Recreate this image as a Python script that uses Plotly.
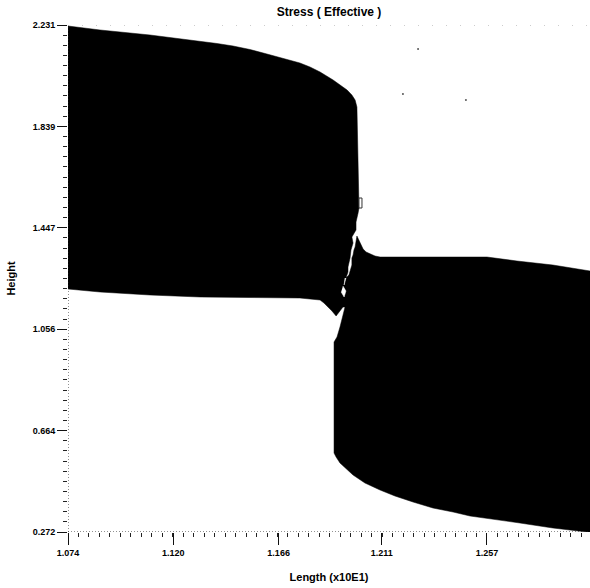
import plotly.graph_objects as go

TITLE = "Stress ( Effective )"
X_TITLE = "Length (x10E1)"
Y_TITLE = "Height"

x_ticks = [1.074, 1.120, 1.166, 1.211, 1.257]
x_tick_labels = ["1.074", "1.120", "1.166", "1.211", "1.257"]
y_ticks = [2.231, 1.839, 1.447, 1.056, 0.664, 0.272]
y_tick_labels = ["2.231", "1.839", "1.447", "1.056", "0.664", "0.272"]
x_min, x_max = 1.074, 1.302
y_min, y_max = 0.272, 2.231

# Upper-left front of the filled stress region
upper_x = [1.0740, 1.0880, 1.1098, 1.1207, 1.1317, 1.1391, 1.1461, 1.1535, 1.1609, 1.1683, 1.1753, 1.1797, 1.1841,
           1.1898, 1.1928, 1.1959, 1.1980, 1.1994, 1.2002, 1.2007, 1.2011,
           1.2011, 1.2007, 1.1998, 1.1998, 1.1980, 1.1985, 1.1976, 1.1972]
upper_y = [2.2271, 2.2117, 2.1924, 2.1808, 2.1692, 2.1595, 2.1499, 2.1363, 2.1189, 2.1016, 2.0842, 2.0687, 2.0494,
           2.0185, 1.9992, 1.9798, 1.9605, 1.9412, 1.9142, 1.6707, 1.5664,
           1.5239, 1.5046, 1.4698, 1.4389, 1.4118, 1.3886, 1.3616, 1.3307]
# Narrow crack between the two lobes
crack_x = [1.1963, 1.1963, 1.1954, 1.1967, 1.1980, 1.1980, 1.1985, 1.1989, 1.1994, 1.2002]
crack_y = [1.2959, 1.2766, 1.2534, 1.2650, 1.3036, 1.3307, 1.3423, 1.3616, 1.3732, 1.4157]
# Upper-right front
right_top_x = [1.2016, 1.2029, 1.2042, 1.2059, 1.2081, 1.2103, 1.2570, 1.2701, 1.2858, 1.3020]
right_top_y = [1.3925, 1.3655, 1.3539, 1.3461, 1.3384, 1.3345, 1.3345, 1.3191, 1.3036, 1.2805]
# Lower-right front, from the right edge back to the left
right_bottom_x = [1.3020, 1.3007, 1.2858, 1.2714, 1.2570, 1.2496, 1.2422, 1.2334, 1.2247, 1.2168, 1.2103, 1.2037,
                  1.1985, 1.1954, 1.1928, 1.1911, 1.1902, 1.1902]
right_bottom_y = [0.2720, 0.2720, 0.2874, 0.3067, 0.3260, 0.3338, 0.3492, 0.3647, 0.3879, 0.4111, 0.4342, 0.4613,
                  0.4922, 0.5154, 0.5386, 0.5618, 0.5772, 1.0061]
# Wedge and lower-left front
lower_x = [1.1915, 1.1928, 1.1941, 1.1950, 1.1941, 1.1911, 1.1893, 1.1876, 1.1858, 1.1841, 1.1806, 1.1753, 1.1535,
           1.1317, 1.1098, 1.0880, 1.0740]
lower_y = [1.0254, 1.0641, 1.1104, 1.1414, 1.1414, 1.1066, 1.1259, 1.1414, 1.1568, 1.1684, 1.1723, 1.1761, 1.1780,
           1.1800, 1.1877, 1.1993, 1.2109]

region_x = upper_x + crack_x + right_top_x + right_bottom_x + lower_x
region_y = upper_y + crack_y + right_top_y + right_bottom_y + lower_y

# White flaws inside the crack
flaw_x = [1.1941, 1.1954, 1.1950, 1.1946, 1.1941, 1.1933]
flaw_y = [1.2225, 1.2032, 1.1916, 1.1800, 1.1877, 1.1993]
sliver_x = [1.1954, 1.1946, 1.1950]
sliver_y = [1.2534, 1.2264, 1.2534]
box_x = [1.2011, 1.2024, 1.2024, 1.2011, 1.2011]
box_y = [1.5625, 1.5625, 1.5239, 1.5239, 1.5625]

speck_x = [1.2203, 1.2478, 1.2269]
speck_y = [1.9644, 1.9412, 2.1383]

BLACK = "#000000"
FONT = "Liberation Sans"

fig = go.Figure()
fig.add_trace(go.Scatter(x=region_x, y=region_y, mode="lines", fill="toself", fillcolor=BLACK,
                         line=dict(color=BLACK, width=0.5), hoverinfo="skip", showlegend=False))
for fx, fy in ((flaw_x, flaw_y), (sliver_x, sliver_y)):
    fig.add_trace(go.Scatter(x=fx, y=fy, mode="lines", fill="toself", fillcolor="#ffffff",
                             line=dict(color="#ffffff", width=0.5), hoverinfo="skip", showlegend=False))
fig.add_trace(go.Scatter(x=box_x, y=box_y, mode="lines", fill="toself", fillcolor="#ffffff",
                         line=dict(color="#333333", width=1), hoverinfo="skip", showlegend=False))
fig.add_trace(go.Scatter(x=speck_x, y=speck_y, mode="markers", marker=dict(color="#555555", size=2),
                         hoverinfo="skip", showlegend=False))
# Dotted frame
fig.add_trace(go.Scatter(x=[x_min, x_max], y=[y_min, y_min], mode="lines", cliponaxis=False,
                         line=dict(color="#222222", width=1, dash="1px,2px"), hoverinfo="skip", showlegend=False))
fig.add_trace(go.Scatter(x=[x_min, x_min], y=[y_min, y_max], mode="lines", cliponaxis=False,
                         line=dict(color="#222222", width=1, dash="1px,2px"), hoverinfo="skip", showlegend=False))
fig.add_trace(go.Scatter(x=[x_min, x_max], y=[y_max, y_max], mode="lines", cliponaxis=False,
                         line=dict(color="#999999", width=1, dash="1px,13px"), hoverinfo="skip", showlegend=False))

fig.update_layout(
    width=590, height=588, autosize=False,
    margin=dict(l=68, r=0, t=25, b=56),
    paper_bgcolor="#ffffff", plot_bgcolor="#ffffff",
    showlegend=False,
    title=dict(text=TITLE, x=329 / 590, xanchor="center", y=1 - 12 / 588, yanchor="middle",
               font=dict(family=FONT, size=12, color=BLACK, weight=700)),
    xaxis=dict(
        range=[x_min, x_max], tickmode="array", tickvals=x_ticks, ticktext=x_tick_labels,
        ticks="outside", ticklen=12, tickwidth=1, tickcolor="#111111", showgrid=False, zeroline=False, showline=False,
        tickfont=dict(family=FONT, size=9, color=BLACK, weight=700),
        minor=dict(ticks="outside", ticklen=4, tickwidth=1, tickcolor="#222222", tick0=1.074, dtick=0.004575, showgrid=False),
        title=dict(text=X_TITLE, standoff=16, font=dict(family=FONT, size=11, color=BLACK, weight=700)),
    ),
    yaxis=dict(
        range=[y_min, y_max], tickmode="array", tickvals=y_ticks, ticktext=y_tick_labels,
        ticks="outside", ticklen=10, tickwidth=1, tickcolor="#111111", showgrid=False, zeroline=False, showline=False,
        tickfont=dict(family=FONT, size=9, color=BLACK, weight=700),
        minor=dict(ticks="outside", ticklen=4, tickwidth=1, tickcolor="#222222", tick0=0.272, dtick=0.03918, showgrid=False),
        title=dict(text=Y_TITLE, standoff=14, font=dict(family=FONT, size=11, color=BLACK, weight=700)),
    ),
)
fig.write_html("out.html", config={"displayModeBar": False},
               post_script="document.body.style.margin='0';document.body.style.overflow='hidden';")
